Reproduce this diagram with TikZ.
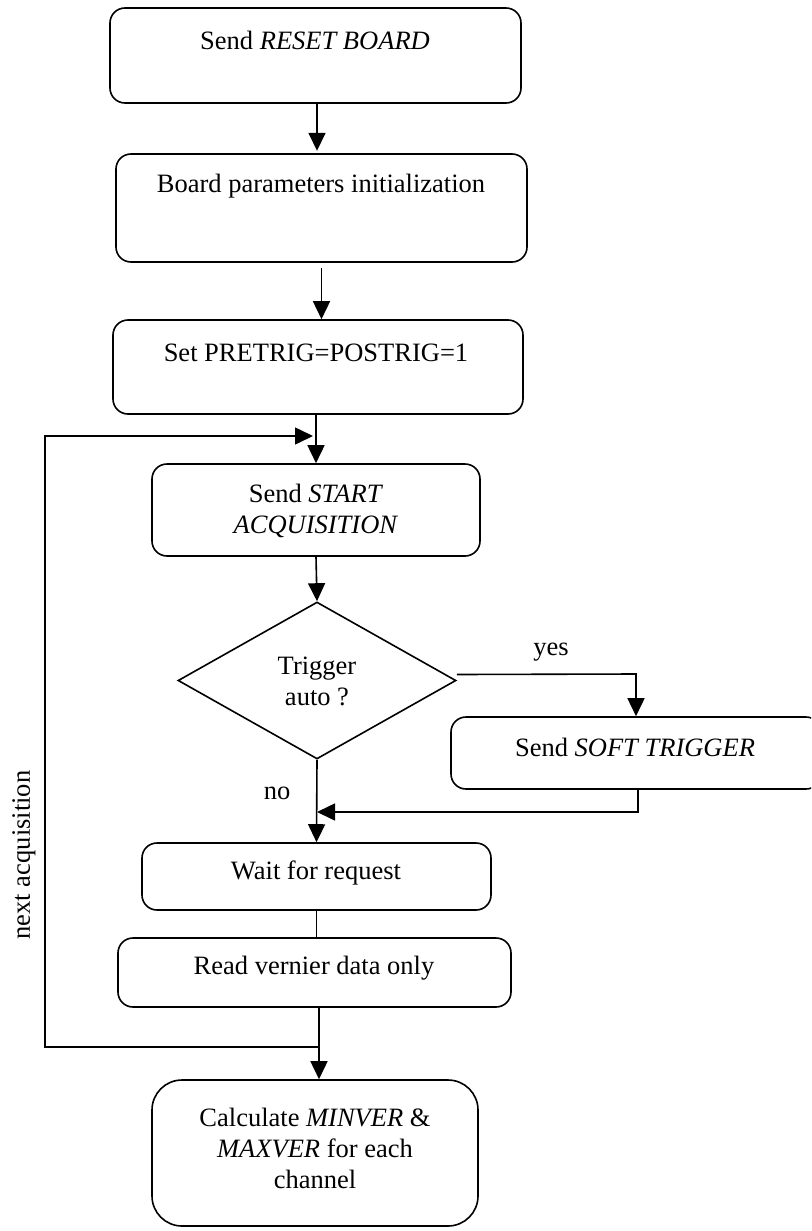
\documentclass[tikz,border=0pt]{standalone}
\usepackage{fontspec}
\setmainfont{Liberation Serif}
\usetikzlibrary{arrows.meta,shapes.geometric}
\begin{document}
\begin{tikzpicture}[x=1pt,y=-1pt,
  box/.style={draw,line width=1.6pt,rounded corners=15pt,inner sep=0pt},
  txt/.style={font=\fontsize{26.5}{31}\selectfont,align=center,inner sep=0pt},
  ln/.style={line width=1.6pt},
  arr/.style={line width=1.6pt,-{Triangle[length=18pt,width=17pt]}}]
\useasboundingbox (0,0) rectangle (811,1231);
\begin{scope}
\clip (0,0) rectangle (811,1231);
% boxes
\node[box,minimum width=411pt,minimum height=95pt] (b1) at (315.5,55.5) {};
\node[box,minimum width=411pt,minimum height=108pt] (b2) at (321.5,208) {};
\node[box,minimum width=410pt,minimum height=94pt] (b3) at (318,367) {};
\node[box,minimum width=328pt,minimum height=92pt] (b4) at (316,510) {};
\node[draw,line width=1.6pt,diamond,inner sep=0pt,minimum width=278pt,minimum height=157pt] (d) at (317,680.5) {};
\node[box,minimum width=370pt,minimum height=72pt] (b5) at (636,753) {};
\node[box,minimum width=349pt,minimum height=67pt] (b6) at (316.5,876.5) {};
\node[box,minimum width=393pt,minimum height=69pt] (b7) at (314.5,972.5) {};
\node[box,rounded corners=30pt,minimum width=326pt,minimum height=146pt] (b8) at (315,1153) {};
% texts
\node[txt] (t1) at (315,40) {Send \textit{RESET BOARD}};
\node[txt] (t2) at (321,186) {Board parameters initialization};
\node[txt] (t3) at (316,353) {Set PRETRIG=POSTRIG=1};
\node[txt] (t4) at (316,511) {Send \textit{START}\\\textit{ACQUISITION}};
\node[txt] (td) at (317,681) {Trigger\\auto ?};
\node[txt] (t5) at (635,747) {Send \textit{SOFT TRIGGER}};
\node[txt] (t6) at (316,873) {Wait for request};
\node[txt] (t7) at (314,968) {Read vernier data only};
\node[txt] (t8) at (315,1148) {Calculate \textit{MINVER} \&\\\textit{MAXVER} for each\\channel};
\node[txt] (yes) at (551,652) {yes};
\node[txt] (no) at (277,793) {no};
\node[txt,rotate=90] (next) at (24,855) {next acquisition};
% coordinates
\coordinate (loopTop) at (45,436);
\coordinate (loopBot) at (45,1047);
\coordinate (j2) at (319,1047);
\coordinate (yesR) at (636,674);
\coordinate (retB) at (638,812);
% connectors
\draw[arr] (b1.south) ++(1.5,0) -- ++(0,47);
\draw[arr,shorten <=5pt] (b2.south) -- (b2.south |- b3.north);
\draw[ln] (b4.north |- b3.south) -- (b4.north |- loopTop);
\draw[arr] (b4.north |- loopTop) -- (b4.north);
\draw[arr,shorten >=3pt] (j2) -- (loopBot) -- (loopTop) -- (b4.north |- loopTop);
\draw[arr] (b4.south) -- (d.north);
\draw[arr] (d.east) ++(0,-6) -- (yesR) -- (yesR |- b5.north);
\draw[arr] (retB |- b5.south) -- (retB) -- (d.south |- retB);
\draw[arr] (d.south) -- (b6.north);
\draw[ln] (b6.south) -- (b6.south |- b7.north);
\draw[ln] (b7.south -| j2) -- (j2);
\draw[arr] (j2) -- (j2 |- b8.north);
\end{scope}
\end{tikzpicture}
\end{document}
